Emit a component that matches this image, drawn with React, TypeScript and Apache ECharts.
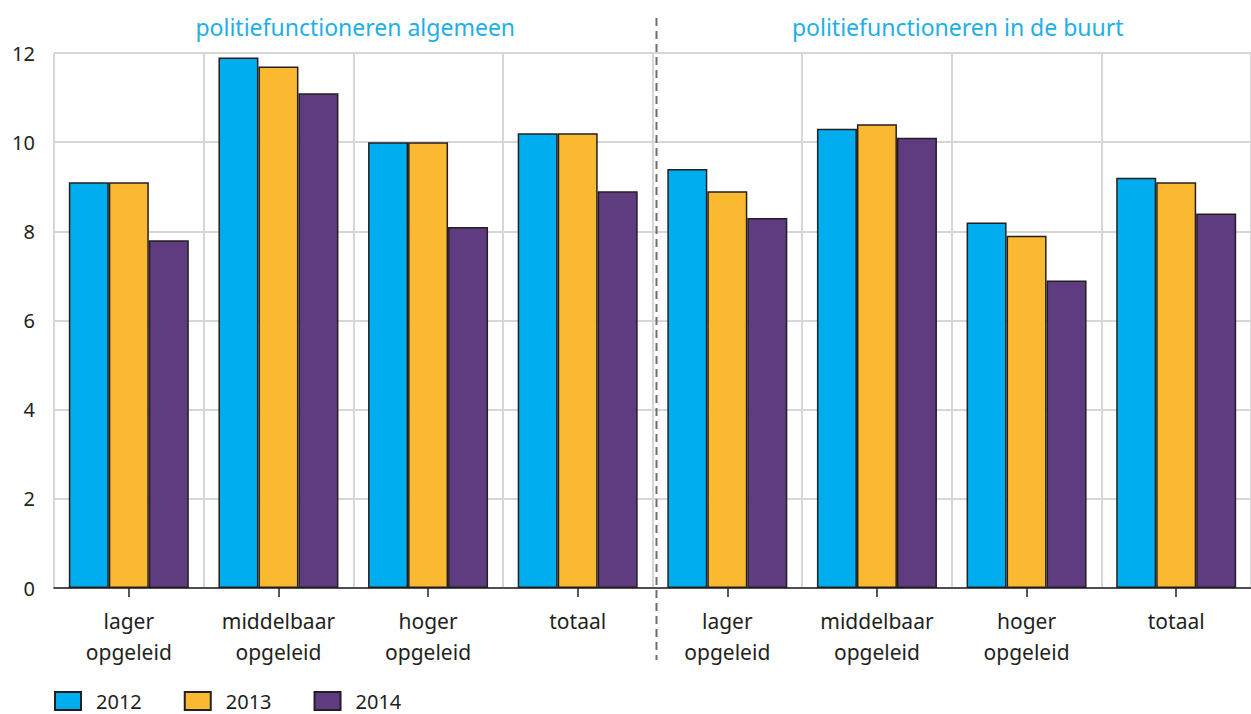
import React, { useEffect, useRef } from "react";
import * as echarts from "echarts";

const categories = [
  "lager\nopgeleid",
  "middelbaar\nopgeleid",
  "hoger\nopgeleid",
  "totaal",
  "lager\nopgeleid",
  "middelbaar\nopgeleid",
  "hoger\nopgeleid",
  "totaal",
];
const values2012 = [9.1, 11.9, 10.0, 10.2, 9.4, 10.3, 8.2, 9.2];
const values2013 = [9.1, 11.7, 10.0, 10.2, 8.9, 10.4, 7.9, 9.1];
const values2014 = [7.8, 11.1, 8.1, 8.9, 8.3, 10.1, 6.9, 8.4];
const seriesNames = ["2012", "2013", "2014"];
const panelTitles = ["politiefunctioneren algemeen", "politiefunctioneren in de buurt"];
const yTicks = { min: 0, max: 12, interval: 2 };

const COLORS = ["#00AEEF", "#FBB831", "#5F3B80"];
const FONT = "'Noto Sans', 'Open Sans', sans-serif";
const GRID = { left: 54, top: 53, width: 1205, height: 535 };

export default function App() {
  const ref = useRef<HTMLDivElement>(null);
  useEffect(() => {
    if (!ref.current) return;
    const chart = echarts.init(ref.current, undefined, { renderer: "svg" });
    const data = [values2012, values2013, values2014];
    const catW = GRID.width / categories.length;
    const midX = GRID.left + catW * 4;
    chart.setOption({
      animation: false,
      textStyle: { fontFamily: FONT },
      grid: { ...GRID, containLabel: false },
      legend: {
        left: 54,
        bottom: 3,
        padding: 0,
        itemWidth: 26,
        itemHeight: 18,
        itemGap: 42,
        icon: "rect",
        data: seriesNames,
        textStyle: { fontSize: 20, color: "#231F20", fontFamily: FONT, padding: [0, 0, 0, 10] },
      },
      xAxis: {
        type: "category",
        data: categories,
        axisLine: { show: true, lineStyle: { color: "#231F20", width: 1.5 } },
        axisTick: { show: true, alignWithLabel: true, length: 9, lineStyle: { color: "#231F20", width: 1.5 } },
        axisLabel: { color: "#231F20", fontSize: 21, lineHeight: 31, margin: 17, interval: 0, fontFamily: FONT },
        splitLine: { show: true, interval: 0, lineStyle: { color: "#D6D6D6", width: 2 } },
      },
      yAxis: {
        type: "value",
        min: yTicks.min,
        max: yTicks.max,
        interval: yTicks.interval,
        axisLine: { show: false },
        axisTick: { show: false },
        axisLabel: { color: "#231F20", fontSize: 20, margin: 19, fontFamily: FONT },
        splitLine: { show: true, lineStyle: { color: "#D6D6D6", width: 2 } },
      },
      series: seriesNames.map((name, i) => ({
        name,
        type: "bar",
        data: data[i],
        barWidth: 40,
        barGap: "0%",
        itemStyle: { color: COLORS[i], borderColor: "#231F20", borderWidth: 1.5 },
      })),
      graphic: [
        {
          type: "line",
          shape: { x1: midX, y1: 18, x2: midX, y2: 660 },
          style: { stroke: "#6E6E6E", lineWidth: 2, lineDash: [8, 5] },
          z: 10,
        },
        {
          type: "text",
          x: GRID.left + catW * 2,
          y: 27,
          style: {
            text: panelTitles[0],
            fill: "#1EAEE8",
            fontSize: 23,
            fontFamily: FONT,
            textAlign: "center",
            textVerticalAlign: "middle",
          },
        },
        {
          type: "text",
          x: GRID.left + catW * 6,
          y: 27,
          style: {
            text: panelTitles[1],
            fill: "#1EAEE8",
            fontSize: 23,
            fontFamily: FONT,
            textAlign: "center",
            textVerticalAlign: "middle",
          },
        },
      ],
    });
    return () => chart.dispose();
  }, []);
  return (
    <div
      ref={ref}
      style={{ position: "absolute", left: 0, top: 0, width: 1251, height: 714, background: "#fff" }}
    />
  );
}
